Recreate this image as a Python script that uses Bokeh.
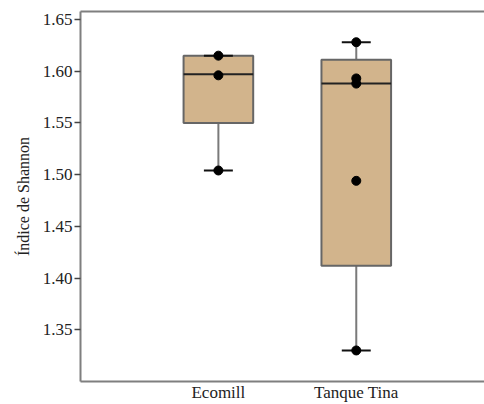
from bokeh.plotting import figure
from bokeh.models import FixedTicker, LinearAxis, Range1d, ColumnDataSource, NumeralTickFormatter
from bokeh.embed import file_html
from bokeh.resources import INLINE

categories = ["Ecomill", "Tanque Tina"]
q1 = [1.550, 1.412]
median = [1.597, 1.588]
q3 = [1.615, 1.611]
whisker_low = [1.504, 1.330]
whisker_high = [1.615, 1.628]
points_group = ["Ecomill", "Ecomill", "Ecomill", "Tanque Tina", "Tanque Tina", "Tanque Tina", "Tanque Tina", "Tanque Tina"]
points_value = [1.615, 1.596, 1.504, 1.628, 1.593, 1.588, 1.494, 1.330]
y_ticks = [1.35, 1.40, 1.45, 1.50, 1.55, 1.60, 1.65]

xpos = [i + 1 for i in range(len(categories))]
FONT = "Liberation Serif"
box_half = 0.2525
cap_half = 0.105

p = figure(width=484, height=404, output_backend="svg", toolbar_location=None,
           x_range=Range1d(0, 2.93), y_range=Range1d(1.30, 1.6577),
           min_border_left=80, min_border_right=0, min_border_top=11, min_border_bottom=10)
p.outline_line_color = None
p.grid.visible = False
p.background_fill_color = "white"

box = ColumnDataSource(dict(x=xpos, q1=q1, q3=q3, med=median, lo=whisker_low, hi=whisker_high,
                            bl=[x - box_half for x in xpos], br=[x + box_half for x in xpos],
                            cl=[x - cap_half for x in xpos], cr=[x + cap_half for x in xpos]))
p.segment(x0="x", y0="q3", x1="x", y1="hi", source=box, line_color="#7a7a7a", line_width=2)
p.segment(x0="x", y0="lo", x1="x", y1="q1", source=box, line_color="#7a7a7a", line_width=2)
p.vbar(x="x", width=2 * box_half, bottom="q1", top="q3", source=box,
       fill_color="#D2B48C", line_color="#666666", line_width=2)
p.segment(x0="bl", y0="med", x1="br", y1="med", source=box, line_color="#222222", line_width=2)
p.segment(x0="cl", y0="hi", x1="cr", y1="hi", source=box, line_color="#111111", line_width=2)
p.segment(x0="cl", y0="lo", x1="cr", y1="lo", source=box, line_color="#111111", line_width=2)

px = [xpos[categories.index(g)] for g in points_group]
p.scatter(x=px, y=points_value, size=9, fill_color="black", line_color="black")

# y axis
ya = p.yaxis[0]
ya.ticker = FixedTicker(ticks=y_ticks)
ya.formatter = NumeralTickFormatter(format="0.00")
ya.axis_label = "Índice de Shannon"
ya.axis_label_text_font = FONT
ya.axis_label_text_font_style = "normal"
ya.axis_label_text_font_size = "16px"
ya.axis_label_text_color = "#222222"
ya.axis_label_standoff = 8
ya.major_label_text_font = FONT
ya.major_label_text_font_size = "17px"
ya.major_label_text_color = "#222222"
ya.major_label_standoff = 2
ya.axis_line_color = "#7f7f7f"
ya.axis_line_width = 2
ya.major_tick_line_color = "#444444"
ya.major_tick_line_width = 1.5
ya.major_tick_out = 6
ya.major_tick_in = 0
ya.minor_tick_line_color = None

# x axis
xa = p.xaxis[0]
xa.ticker = FixedTicker(ticks=xpos)
xa.major_label_overrides = {x: c for x, c in zip(xpos, categories)}
xa.major_label_text_font = FONT
xa.major_label_text_font_size = "17px"
xa.major_label_text_color = "#222222"
xa.major_label_standoff = 1
xa.major_tick_out = 0
xa.major_tick_in = 0
xa.axis_line_color = "#7f7f7f"
xa.axis_line_width = 2
xa.major_tick_line_color = None
xa.minor_tick_line_color = None

top = LinearAxis(ticker=FixedTicker(ticks=[]), major_label_text_font_size="0px",
                 axis_line_color="#7f7f7f", axis_line_width=2, major_tick_out=0, major_tick_in=0,
                 major_label_standoff=0,
                 major_tick_line_color=None, minor_tick_line_color=None)
p.add_layout(top, "above")

open("out.html", "w").write(file_html(p, INLINE))
